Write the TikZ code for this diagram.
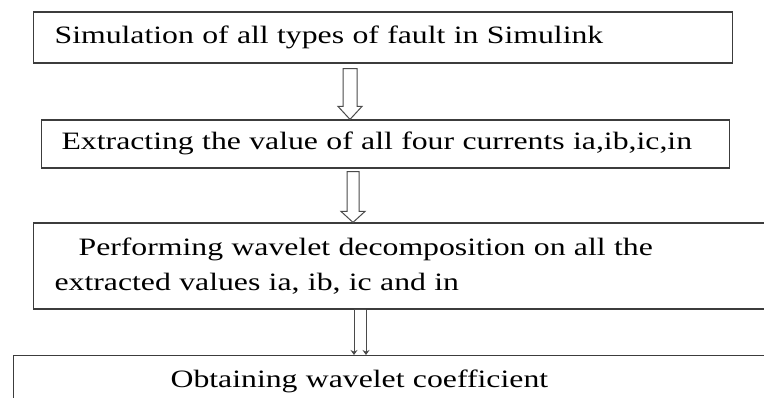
\documentclass[tikz,border=0pt]{standalone}
\usepackage{fontspec}
\setmainfont{Liberation Serif}[FakeStretch=1.27]
\usepackage{tikz}
\usetikzlibrary{arrows.meta}
\usetikzlibrary{calc}
\usepackage{xcolor}

\definecolor{boxline}{HTML}{3C3C3C}
\definecolor{arrline}{HTML}{4A4A4A}

\begin{document}
\begin{tikzpicture}[x=1pt,y=1pt,
		stage/.style={draw=boxline, line width=1.2pt, align=left,
			inner xsep=21pt, inner ysep=0pt, text=black,
			font=\fontsize{25}{35}\selectfont},
		hollow/.style={draw=arrline, line width=1pt, line join=miter, fill=white},
		twin/.style={draw=arrline, line width=1pt}]
	
	% page area
	\clip (0,0) rectangle (764,398);
	
	% stages of the method
	\node[stage, anchor=west, minimum height=51pt, text width=657pt,
		text height=17pt, text depth=5pt] (b1) at (33,360.5)
		{Simulation of all types of fault in Simulink};
	\node[stage, anchor=west, inner xsep=20pt, minimum height=48pt, text width=648pt,
		text height=17pt, text depth=5pt] (b2) at (41,254)
		{Extracting the value of all four currents ia,ib,ic,in};
	\node[stage, anchor=west, minimum height=86pt, text width=715pt] (b3) at (33,132)
		{\hspace*{24pt}Performing wavelet decomposition on all the\\extracted values ia, ib, ic and in};
	\node[stage, anchor=north west, inner xsep=157pt, inner ysep=15pt, text width=463pt,
		text height=17pt, text depth=60pt] (b4) at (13,43)
		{Obtaining wavelet coefficient};
	
	% arrow axes
	\coordinate (a1) at (350,0);
	\coordinate (a2) at (353,0);
	\coordinate (a3l) at (354,0);
	\coordinate (a3r) at (366,0);
	
	% hollow arrows
	\draw[hollow] ($(b1.south -| a1)+(-7,-5)$) -- ($(b2.north -| a1)+(-7,13)$) -- ++(-5,0)
		-- (b2.north -| a1) -- ++(12,13) -- ++(-5,0) -- ($(b1.south -| a1)+(7,-5)$) -- cycle;
	\draw[hollow] ($(b2.south -| a2)+(-6,-3)$) -- ($(b3.north -| a2)+(-6,11)$) -- ++(-6,0)
		-- (b3.north -| a2) -- ++(12,11) -- ++(-6,0) -- ($(b2.south -| a2)+(6,-3)$) -- cycle;
	
	% double line arrow
	\draw[twin] (b3.south -| a3l) -- (b3.south -| a3r);
	\draw[twin,-{Stealth[length=5pt,width=7pt]}] (b3.south -| a3l) -- (b4.north -| a3l);
	\draw[twin,-{Stealth[length=5pt,width=7pt]}] (b3.south -| a3r) -- (b4.north -| a3r);
	
\end{tikzpicture}
\end{document}
